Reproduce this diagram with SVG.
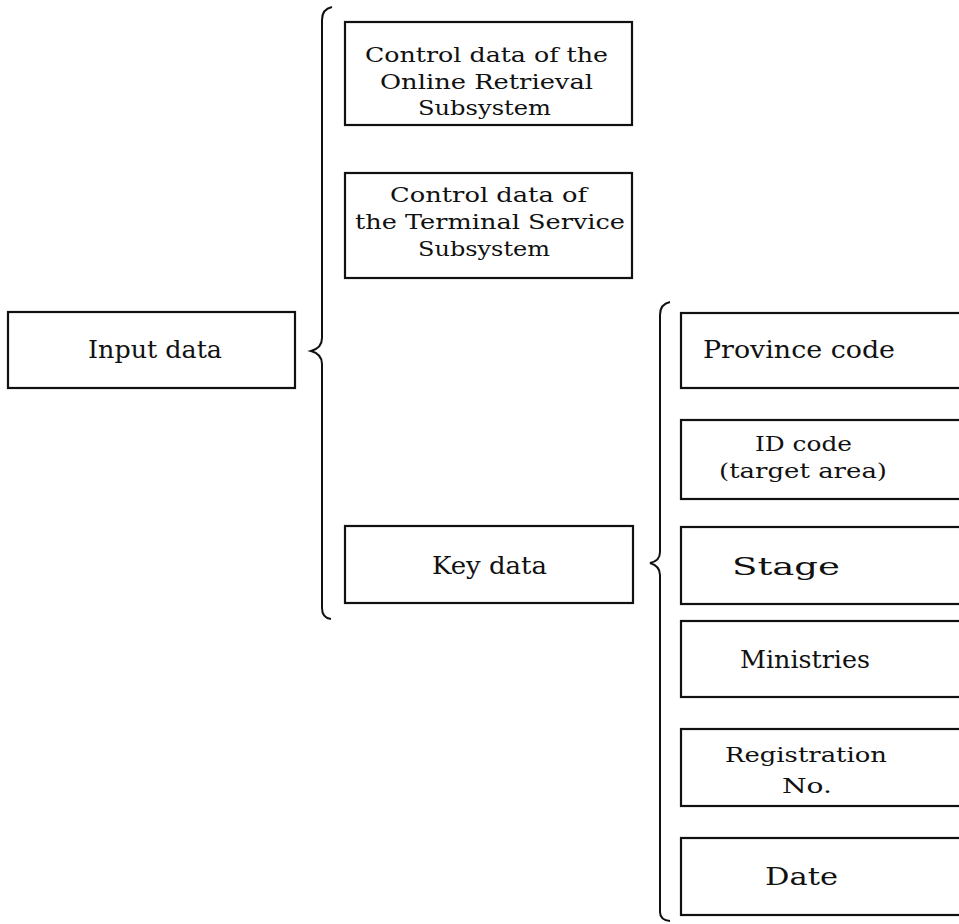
<svg xmlns="http://www.w3.org/2000/svg" width="959" height="924" viewBox="0 0 959 924">
<style>
.box{fill:#fff;stroke:#111;stroke-width:2.2}
.br{fill:none;stroke:#111;stroke-width:2}
text{font-family:"DejaVu Serif","Liberation Serif",serif;font-size:24px;fill:#111}
.m{font-size:21px}
</style>
<rect width="959" height="924" fill="#fff"/>
<g id="connectors">
<path class="br" d="M332,7 Q322,9 322,20 L322,338 Q322,348 311,351 Q322,354 322,364 L322,608 Q322,618 331,619"/>
<path class="br" d="M670,302 Q660,304 660,315 L660,552 Q660,561 650,563 Q660,566 660,575 L660,912 Q660,920 670,921"/>
</g>
<g id="input">
<rect class="box" x="8" y="312" width="287" height="76"/>
<text x="88" y="358" textLength="134" lengthAdjust="spacingAndGlyphs">Input data</text>
</g>
<g id="ctrl-online">
<rect class="box" x="345" y="22" width="287" height="103"/>
<text class="m" x="365" y="62" textLength="243" lengthAdjust="spacingAndGlyphs">Control data of the</text>
<text class="m" x="380" y="89" textLength="213" lengthAdjust="spacingAndGlyphs">Online Retrieval</text>
<text class="m" x="418" y="115" textLength="133" lengthAdjust="spacingAndGlyphs">Subsystem</text>
</g>
<g id="ctrl-terminal">
<rect class="box" x="345" y="173" width="287" height="105"/>
<text class="m" x="390" y="202" textLength="197" lengthAdjust="spacingAndGlyphs">Control data of</text>
<text class="m" x="355" y="229" textLength="270" lengthAdjust="spacingAndGlyphs">the Terminal Service</text>
<text class="m" x="418" y="256" textLength="132" lengthAdjust="spacingAndGlyphs">Subsystem</text>
</g>
<g id="key">
<rect class="box" x="345" y="526" width="288" height="77"/>
<text x="432" y="574" textLength="115" lengthAdjust="spacingAndGlyphs">Key data</text>
</g>
<g id="province">
<rect class="box" x="681" y="313" width="290" height="75"/>
<text x="703" y="358" textLength="192" lengthAdjust="spacingAndGlyphs">Province code</text>
</g>
<g id="idcode">
<rect class="box" x="681" y="420" width="290" height="79"/>
<text class="m" x="755" y="451" textLength="97" lengthAdjust="spacingAndGlyphs">ID code</text>
<text class="m" x="719" y="478" textLength="168" lengthAdjust="spacingAndGlyphs">(target area)</text>
</g>
<g id="stage">
<rect class="box" x="681" y="527" width="290" height="77"/>
<text x="732" y="575" textLength="108" lengthAdjust="spacingAndGlyphs">Stage</text>
</g>
<g id="ministries">
<rect class="box" x="681" y="621" width="290" height="76"/>
<text x="740" y="668" textLength="130" lengthAdjust="spacingAndGlyphs">Ministries</text>
</g>
<g id="registration">
<rect class="box" x="681" y="729" width="290" height="77"/>
<text class="m" x="725" y="762" textLength="162" lengthAdjust="spacingAndGlyphs">Registration</text>
<text class="m" x="782" y="793" textLength="50" lengthAdjust="spacingAndGlyphs">No.</text>
</g>
<g id="date">
<rect class="box" x="681" y="838" width="290" height="77"/>
<text x="765" y="885" textLength="73" lengthAdjust="spacingAndGlyphs">Date</text>
</g>
</svg>
